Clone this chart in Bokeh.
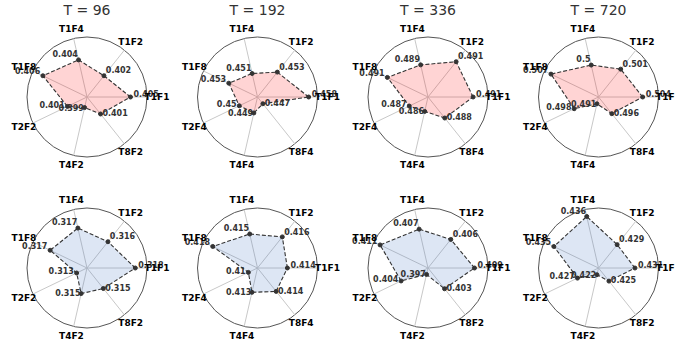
import numpy as np
from bokeh.plotting import figure
from bokeh.models import Range1d
from bokeh.core.properties import value
from bokeh.embed import file_html
from bokeh.resources import INLINE

# ---- data ----
titles = ["T = 96", "T = 192", "T = 336", "T = 720"]
labels_a = ["T1F1", "T1F2", "T1F4", "T1F8", "T2F2", "T4F2", "T8F2"]
labels_b = ["T1F1", "T1F2", "T1F4", "T1F8", "T2F4", "T4F4", "T8F4"]

top_96 = [0.405, 0.402, 0.404, 0.406, 0.401, 0.399, 0.401]
top_192 = [0.458, 0.453, 0.451, 0.453, 0.45, 0.449, 0.447]
top_336 = [0.491, 0.491, 0.489, 0.491, 0.487, 0.486, 0.488]
top_720 = [0.504, 0.501, 0.5, 0.507, 0.498, 0.491, 0.496]
bot_96 = [0.318, 0.316, 0.317, 0.317, 0.313, 0.315, 0.315]
bot_192 = [0.414, 0.416, 0.415, 0.418, 0.41, 0.413, 0.414]
bot_336 = [0.409, 0.406, 0.407, 0.411, 0.404, 0.397, 0.403]
bot_720 = [0.431, 0.429, 0.436, 0.435, 0.427, 0.422, 0.425]

top_labels = [labels_a, labels_b, labels_b, labels_b]
bot_labels = [labels_a, labels_b, labels_a, labels_a]

rows = [
    dict(values=[top_96, top_192, top_336, top_720], labels=top_labels,
         fill="red", alpha=0.17, titles=titles),
    dict(values=[bot_96, bot_192, bot_336, bot_720], labels=bot_labels,
         fill="#4472c4", alpha=0.18, titles=None),
]

# ---- layout (page pixel units) ----
W, H = 675, 345
col_cx = [86.5, 257.0, 427.5, 598.0]
row_cy = [96.5, 267.5]
R = 60.0
LABEL_R = 70.0


def ydata(y_page):
    return H - y_page


p = figure(width=W, height=H, x_range=Range1d(0, W), y_range=Range1d(0, H),
           output_backend="svg", toolbar_location=None,
           x_axis_location=None, y_axis_location=None, min_border=0,
           background_fill_color="white", border_fill_color="white")
p.grid.visible = False
p.outline_line_color = None

FONT = value("DejaVu Sans")

for ri, row in enumerate(rows):
    cy = row_cy[ri]
    for ci in range(4):
        cx = col_cx[ci]
        vals = np.array(row["values"][ci], dtype=float)
        labs = row["labels"][ci]
        n = len(vals)
        ang = 2 * np.pi * np.arange(n) / n
        lo = vals.min() * 0.995
        hi = vals.max() * 1.005
        r = R * (vals - lo) / (hi - lo)

        cxd, cyd = cx, ydata(cy)
        # outer circle
        p.ellipse(x=[cxd], y=[cyd], width=2 * R, height=2 * R,
                  fill_color=None, line_color="#555555", line_width=1)
        # spokes
        p.multi_line(xs=[[cxd, cxd + R * np.cos(a)] for a in ang],
                     ys=[[cyd, cyd + R * np.sin(a)] for a in ang],
                     line_color="#c8c8c8", line_width=1)
        px = cxd + r * np.cos(ang)
        py = cyd + r * np.sin(ang)
        p.patch(x=list(px), y=list(py), fill_color=row["fill"],
                fill_alpha=row["alpha"], line_color=None)
        p.line(x=list(px) + [px[0]], y=list(py) + [py[0]],
               line_color="#333333", line_width=1.1, line_dash="4 2")
        p.scatter(x=px, y=py, size=4, color="#333333")

        # value labels
        for k in range(n):
            c, s = np.cos(ang[k]), np.sin(ang[k])
            p.text(x=[px[k] + 3 * c], y=[py[k] + 3 * s],
                   text=[str(round(float(vals[k]), 3))],
                   text_font=FONT, text_font_style="bold",
                   text_font_size="8px", text_color="#333333",
                   text_align="left" if c > 0 else "right",
                   text_baseline="bottom")
        # axis labels
        p.text(x=list(cxd + LABEL_R * np.cos(ang)),
               y=list(cyd + LABEL_R * np.sin(ang)),
               text=labs, text_font=FONT, text_font_style="bold",
               text_font_size="9px", text_color="black",
               text_align="center", text_baseline="middle")
        if row["titles"]:
            p.text(x=[cxd], y=[ydata(9.5)], text=[row["titles"][ci]],
                   text_font=FONT, text_font_size="14px",
                   text_color="#333333", text_align="center",
                   text_baseline="middle")

open("out.html", "w").write(file_html(p, INLINE))
